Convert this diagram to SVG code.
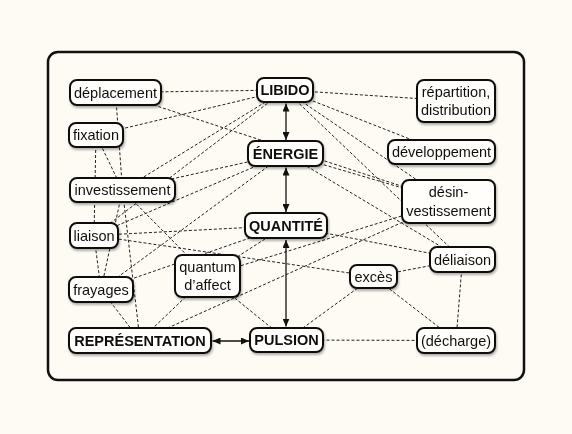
<svg xmlns="http://www.w3.org/2000/svg" width="572" height="434" viewBox="0 0 572 434">
<defs>
<style>
.bg{fill:#fdfbf3}
.frame{fill:#fdfbf3;stroke:#111;stroke-width:2.5}
.box{fill:#fffefa;stroke:#111;stroke-width:2}
.t{font-family:"Liberation Sans",Arial,sans-serif;font-size:14.5px;fill:#111;text-anchor:middle}
.b{font-weight:bold}
.dash{stroke:#222;stroke-width:1;stroke-dasharray:3 2;fill:none}
.arr{stroke:#111;stroke-width:1.3;fill:none;marker-start:url(#ah);marker-end:url(#ah)}
</style>
<marker id="ah" viewBox="0 0 8 7" refX="8" refY="3.5" markerWidth="8" markerHeight="7" markerUnits="userSpaceOnUse" orient="auto-start-reverse">
<path d="M0,0 L8,3.5 L0,7 z" fill="#111"/>
</marker>
<filter id="sh" x="-20%" y="-20%" width="140%" height="160%">
<feDropShadow dx="1" dy="2" stdDeviation="1.3" flood-color="#000" flood-opacity="0.3"/>
</filter>
</defs>
<rect class="bg" x="0" y="0" width="572" height="434"/>
<rect class="frame" x="48" y="52" width="476" height="328" rx="10"/>
<g id="connectors">
<line class="dash" x1="115.5" y1="92.5" x2="285" y2="90"/>
<line class="dash" x1="115.5" y1="92.5" x2="448.5" y2="201.5"/>
<line class="dash" x1="115.5" y1="92.5" x2="122.5" y2="190"/>
<line class="dash" x1="96" y1="135" x2="285" y2="90"/>
<line class="dash" x1="96" y1="135" x2="122.5" y2="190"/>
<line class="dash" x1="96" y1="135" x2="94" y2="235.5"/>
<line class="dash" x1="285" y1="90" x2="456" y2="101"/>
<line class="dash" x1="285" y1="90" x2="441.5" y2="151.5"/>
<line class="dash" x1="285" y1="90" x2="448.5" y2="201.5"/>
<line class="dash" x1="285" y1="90" x2="462.5" y2="259.5"/>
<line class="dash" x1="122.5" y1="190" x2="285" y2="90"/>
<line class="dash" x1="94" y1="235.5" x2="285" y2="90"/>
<line class="dash" x1="122.5" y1="190" x2="285.5" y2="153.5"/>
<line class="dash" x1="94" y1="235.5" x2="285.5" y2="153.5"/>
<line class="dash" x1="101" y1="289.5" x2="285.5" y2="153.5"/>
<line class="dash" x1="285.5" y1="153.5" x2="448.5" y2="201.5"/>
<line class="dash" x1="285.5" y1="153.5" x2="462.5" y2="259.5"/>
<line class="dash" x1="94" y1="235.5" x2="286" y2="225.5"/>
<line class="dash" x1="286" y1="225.5" x2="462.5" y2="259.5"/>
<line class="dash" x1="286" y1="225.5" x2="207.5" y2="276"/>
<line class="dash" x1="101" y1="289.5" x2="286" y2="225.5"/>
<line class="dash" x1="122.5" y1="190" x2="207.5" y2="276"/>
<line class="dash" x1="122.5" y1="190" x2="101" y2="289.5"/>
<line class="dash" x1="122.5" y1="190" x2="140" y2="340.5"/>
<line class="dash" x1="94" y1="235.5" x2="101" y2="289.5"/>
<line class="dash" x1="101" y1="289.5" x2="140" y2="340.5"/>
<line class="dash" x1="207.5" y1="276" x2="140" y2="340.5"/>
<line class="dash" x1="207.5" y1="276" x2="286.5" y2="340"/>
<line class="dash" x1="207.5" y1="276" x2="448.5" y2="201.5"/>
<line class="dash" x1="140" y1="340.5" x2="448.5" y2="201.5"/>
<line class="dash" x1="94" y1="235.5" x2="373.5" y2="276.5"/>
<line class="dash" x1="373.5" y1="276.5" x2="462.5" y2="259.5"/>
<line class="dash" x1="286.5" y1="340" x2="373.5" y2="276.5"/>
<line class="dash" x1="373.5" y1="276.5" x2="456" y2="340.5"/>
<line class="dash" x1="462.5" y1="259.5" x2="456" y2="340.5"/>
<line class="dash" x1="286.5" y1="340" x2="456" y2="340.5"/>
<line class="arr" x1="286" y1="103.5" x2="286" y2="140"/>
<line class="arr" x1="286" y1="167.5" x2="286" y2="212"/>
<line class="arr" x1="286" y1="240" x2="286" y2="326.5"/>
<line class="arr" x1="212.5" y1="341" x2="249" y2="341"/>
</g>
<g id="n-deplacement" filter="url(#sh)"><rect class="box" x="70" y="80" width="91" height="25" rx="7"/><text class="t" x="115.5" y="97.5">déplacement</text></g>
<g id="n-libido" filter="url(#sh)"><rect class="box" x="257" y="78" width="56" height="24" rx="7"/><text class="t b" x="285" y="95">LIBIDO</text></g>
<g id="n-repartition" filter="url(#sh)"><rect class="box" x="417" y="80" width="78" height="42" rx="7"/><text class="t" x="456" y="97">répartition,</text><text class="t" x="456" y="115">distribution</text></g>
<g id="n-fixation" filter="url(#sh)"><rect class="box" x="69" y="123" width="54" height="24" rx="7"/><text class="t" x="96" y="140">fixation</text></g>
<g id="n-energie" filter="url(#sh)"><rect class="box" x="248" y="141" width="75" height="25" rx="7"/><text class="t b" x="285.5" y="158.5">ÉNERGIE</text></g>
<g id="n-developpement" filter="url(#sh)"><rect class="box" x="388" y="140" width="107" height="24" rx="7"/><text class="t" x="441.5" y="157">développement</text></g>
<g id="n-investissement" filter="url(#sh)"><rect class="box" x="70" y="178" width="105" height="24" rx="7"/><text class="t" x="122.5" y="195">investissement</text></g>
<g id="n-desinvestissement" filter="url(#sh)"><rect class="box" x="402" y="180" width="93" height="43" rx="7"/><text class="t" x="448.5" y="197">désin-</text><text class="t" x="448.5" y="216">vestissement</text></g>
<g id="n-quantite" filter="url(#sh)"><rect class="box" x="245" y="213" width="82" height="25" rx="7"/><text class="t b" x="286" y="230.5">QUANTITÉ</text></g>
<g id="n-liaison" filter="url(#sh)"><rect class="box" x="70" y="223" width="48" height="25" rx="7"/><text class="t" x="94" y="240.5">liaison</text></g>
<g id="n-deliaison" filter="url(#sh)"><rect class="box" x="430" y="247" width="65" height="25" rx="7"/><text class="t" x="462.5" y="264.5">déliaison</text></g>
<g id="n-quantum" filter="url(#sh)"><rect class="box" x="175" y="255" width="65" height="42" rx="7"/><text class="t" x="207.5" y="272">quantum</text><text class="t" x="207.5" y="290">d’affect</text></g>
<g id="n-exces" filter="url(#sh)"><rect class="box" x="350" y="265" width="47" height="23" rx="7"/><text class="t" x="373.5" y="281.5">excès</text></g>
<g id="n-frayages" filter="url(#sh)"><rect class="box" x="69" y="277" width="64" height="25" rx="7"/><text class="t" x="101" y="294.5">frayages</text></g>
<g id="n-representation" filter="url(#sh)"><rect class="box" x="69" y="328" width="142" height="25" rx="7"/><text class="t b" x="140" y="345.5">REPRÉSENTATION</text></g>
<g id="n-pulsion" filter="url(#sh)"><rect class="box" x="250" y="328" width="73" height="24" rx="7"/><text class="t b" x="286.5" y="345">PULSION</text></g>
<g id="n-decharge" filter="url(#sh)"><rect class="box" x="417" y="328" width="78" height="25" rx="7"/><text class="t" x="456" y="345.5">(décharge)</text></g>
</svg>
